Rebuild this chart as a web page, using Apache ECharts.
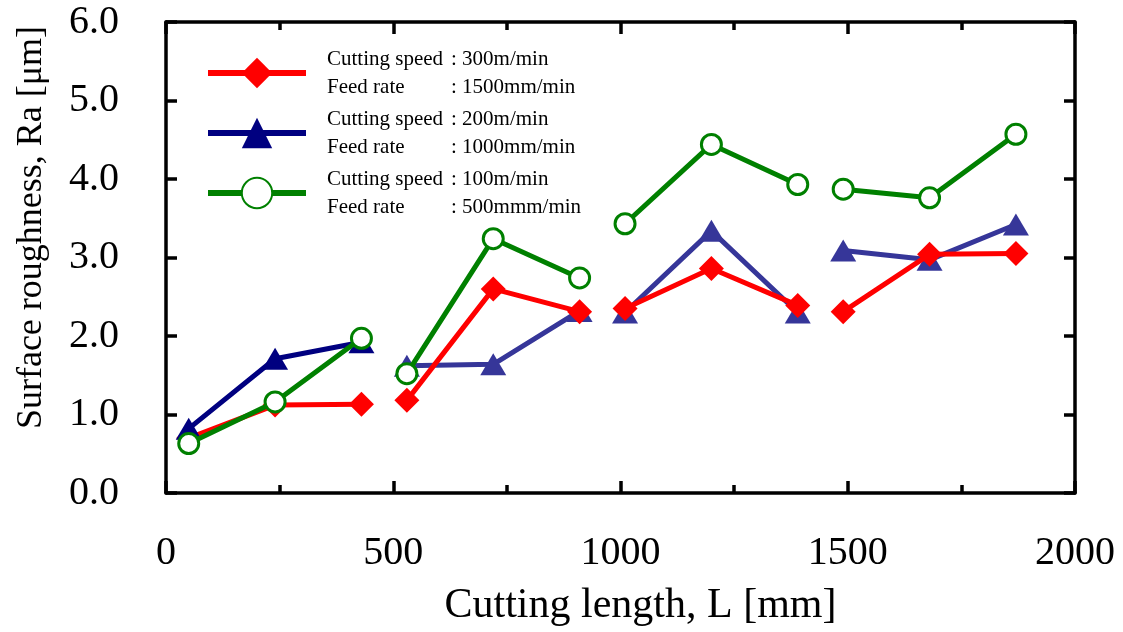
<!DOCTYPE html>
<html>
<head>
<meta charset="utf-8">
<script src="https://cdn.jsdelivr.net/npm/echarts@6/dist/echarts.min.js"></script>
<style>
html,body{margin:0;padding:0;background:#fff;}
#c{width:1123px;height:632px;}
</style>
</head>
<body>
<div id="c"></div>
<script>
// Cutting length [mm]
const lengths = [50, 240, 430, 530, 720, 910, 1010, 1200, 1390, 1490, 1680, 1870];
// Surface roughness Ra [um]
const ra300 = [0.70, 1.12, 1.13, 1.18, 2.60, 2.31, 2.35, 2.86, 2.39, 2.31, 3.04, 3.05];
const ra200 = [0.82, 1.71, 1.92, 1.62, 1.64, 2.32, 2.30, 3.34, 2.30, 3.09, 2.97, 3.42];
const ra100 = [0.63, 1.16, 1.97, 1.52, 3.24, 2.74, 3.43, 4.44, 3.93, 3.87, 3.76, 4.57];
const groupSize = 3;
const xTicks = [0, 500, 1000, 1500, 2000];
const yTicks = ['0.0', '1.0', '2.0', '3.0', '4.0', '5.0', '6.0'];
const names = ['s300', 's200', 's100'];
const legendText = {
  s300: ['Cutting speed', ': 300m/min', 'Feed rate', ': 1500mm/min'],
  s200: ['Cutting speed', ': 200m/min', 'Feed rate', ': 1000mm/min'],
  s100: ['Cutting speed', ': 100m/min', 'Feed rate', ': 500mmm/min']
};

function build(vals, from, to) {
  const out = [];
  for (let i = from; i < to; i++) {
    out.push([lengths[i], vals[i]]);
    if ((i + 1) % groupSize === 0 && i + 1 < to) out.push([lengths[i], '-']);
  }
  return out;
}

const serif = 'Liberation Serif, Times New Roman, serif';
const chart = echarts.init(document.getElementById('c'));

const lineBase = { type: 'line', connectNulls: false, animation: false };
const axLine = { show: true, onZero: false, lineStyle: { color: '#000', width: 3.5 } };
const xTick = { show: true, inside: true, length: 12, lineStyle: { color: '#000', width: 3.5 } };
const xMinor = { show: true, splitNumber: 2, length: 8, lineStyle: { color: '#000', width: 3.5 } };
const yTick = { show: true, inside: true, length: 11, lineStyle: { color: '#000', width: 3.5 } };

chart.setOption({
  animation: false,
  grid: { left: 166, right: 48, top: 22, bottom: 139, show: false },
  legend: {
    orient: 'vertical',
    left: 205,
    top: 45,
    padding: 0,
    itemWidth: 98,
    itemHeight: 38,
    itemGap: 4,
    data: names,
    lineStyle: { width: 6 },
    textStyle: {
      fontFamily: serif,
      fontSize: 21,
      color: '#000',
      lineHeight: 28,
      rich: {
        a: { width: 124, padding: [0, 0, 0, 16], fontFamily: serif, fontSize: 21, lineHeight: 28, color: '#000' },
        b: { fontFamily: serif, fontSize: 21, lineHeight: 28, color: '#000' }
      }
    },
    formatter: function (n) {
      const t = legendText[n];
      return '{a|' + t[0] + '}{b|' + t[1] + '}\n{a|' + t[2] + '}{b|' + t[3] + '}';
    }
  },
  xAxis: [{
    type: 'value',
    min: 0, max: 2000, interval: 500,
    position: 'bottom',
    name: 'Cutting length, L [mm]',
    nameLocation: 'middle',
    nameGap: 92,
    nameTextStyle: { fontFamily: serif, fontSize: 42, color: '#000', padding: [0, 0, 0, 40] },
    axisLine: axLine, axisTick: xTick, minorTick: xMinor,
    axisLabel: { margin: 40, fontFamily: serif, fontSize: 40, color: '#000',
      formatter: v => xTicks.indexOf(v) >= 0 ? String(v) : '' },
    splitLine: { show: false }
  }, {
    type: 'value',
    min: 0, max: 2000, interval: 500,
    position: 'top',
    axisLine: axLine, axisTick: xTick, minorTick: xMinor,
    axisLabel: { show: false },
    splitLine: { show: false }
  }],
  yAxis: [{
    type: 'value',
    min: 0, max: 6, interval: 1,
    position: 'left',
    name: 'Surface roughness, Ra [μm]',
    nameLocation: 'middle',
    nameGap: 116,
    nameTextStyle: { fontFamily: serif, fontSize: 36, color: '#000', padding: [0, 0, 0, 60] },
    axisLine: axLine, axisTick: yTick,
    axisLabel: { margin: 47, fontFamily: serif, fontSize: 40, color: '#000',
      formatter: v => yTicks[Math.round(v)] },
    splitLine: { show: false }
  }, {
    type: 'value',
    min: 0, max: 6, interval: 1,
    position: 'right',
    axisLine: axLine, axisTick: yTick,
    axisLabel: { show: false },
    splitLine: { show: false }
  }],
  series: [
    Object.assign({}, lineBase, {
      name: 's300',
      data: build(ra300, 0, lengths.length),
      symbol: 'diamond', symbolSize: [25, 25],
      itemStyle: { color: '#ff0000' },
      lineStyle: { color: '#ff0000', width: 5 },
      z: 3
    }),
    Object.assign({}, lineBase, {
      name: 's200',
      data: build(ra200, 0, groupSize),
      symbol: 'triangle', symbolSize: [26, 22],
      itemStyle: { color: '#000080' },
      lineStyle: { color: '#000080', width: 5 },
      z: 3
    }),
    Object.assign({}, lineBase, {
      name: 's200',
      data: build(ra200, groupSize, lengths.length),
      symbol: 'triangle', symbolSize: [26, 22],
      itemStyle: { color: '#363699' },
      lineStyle: { color: '#363699', width: 5 },
      z: 2
    }),
    Object.assign({}, lineBase, {
      name: 's100',
      data: build(ra100, 0, lengths.length),
      symbol: 'circle', symbolSize: 20,
      itemStyle: { color: '#ffffff', borderColor: '#008000', borderWidth: 3 },
      lineStyle: { color: '#008000', width: 5 },
      z: 4
    })
  ]
});
</script>
</body>
</html>
